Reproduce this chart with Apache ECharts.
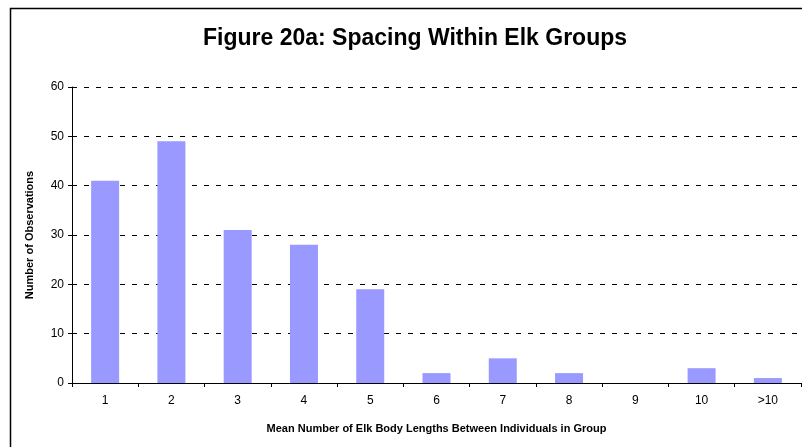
<!DOCTYPE html>
<html>
<head>
<meta charset="utf-8">
<script src="https://cdn.jsdelivr.net/npm/echarts@6/dist/echarts.min.js"></script>
<style>
  html, body { margin: 0; padding: 0; background: #fff; }
  #chart { width: 802px; height: 447px; }
</style>
</head>
<body>
<div id="chart"></div>
<script>
// Spacing within elk groups: counts per mean body-length bin
const categories = ['1', '2', '3', '4', '5', '6', '7', '8', '9', '10', '>10'];
const observations = [41, 49, 31, 28, 19, 2, 5, 2, 0, 3, 1];
const yTicks = { min: 0, max: 60, interval: 10 };

const chart = echarts.init(document.getElementById('chart'), null, { renderer: 'canvas' });
const font = 'Arial, "Liberation Sans", sans-serif';

chart.setOption({
  animation: false,
  backgroundColor: '#ffffff',
  title: {
    text: 'Figure 20a: Spacing Within Elk Groups',
    left: 410,
    top: 22,
    textAlign: 'center',
    textStyle: { fontFamily: font, fontSize: 23, fontWeight: 'bold', color: '#000' }
  },
  graphic: [{
    type: 'rect',
    left: 8, top: 6,
    shape: { width: 900, height: 500 },
    style: { fill: 'none', stroke: '#000', lineWidth: 1.5 },
    silent: true
  }],
  grid: { left: 72, right: 1, top: 87, bottom: 64 },
  xAxis: {
    type: 'category',
    data: categories,
    boundaryGap: true,
    name: 'Mean Number of Elk Body Lengths Between Individuals in Group',
    nameLocation: 'middle',
    nameGap: 40,
    nameTextStyle: { fontFamily: font, fontSize: 11, fontWeight: 'bold', color: '#000' },
    axisLine: { lineStyle: { color: '#000', width: 1 } },
    axisTick: { show: true, length: 4, alignWithLabel: false, lineStyle: { color: '#000' } },
    axisLabel: { fontFamily: font, fontSize: 12, color: '#000', margin: 12 },
    splitLine: { show: false }
  },
  yAxis: {
    type: 'value',
    min: yTicks.min,
    max: yTicks.max,
    interval: yTicks.interval,
    name: 'Number of Observations',
    nameLocation: 'middle',
    nameGap: 37,
    nameRotate: 90,
    nameTextStyle: { fontFamily: font, fontSize: 11, fontWeight: 'bold', color: '#000' },
    axisLine: { show: true, lineStyle: { color: '#000', width: 1 } },
    axisTick: { show: true, length: 4, lineStyle: { color: '#000' } },
    axisLabel: { fontFamily: font, fontSize: 12, color: '#000', margin: 8 },
    splitLine: { show: true, lineStyle: { color: '#000', type: [5, 7], width: 1 } }
  },
  series: [{
    type: 'bar',
    data: observations,
    barWidth: 28,
    itemStyle: { color: '#9999ff' }
  }]
});
</script>
</body>
</html>
